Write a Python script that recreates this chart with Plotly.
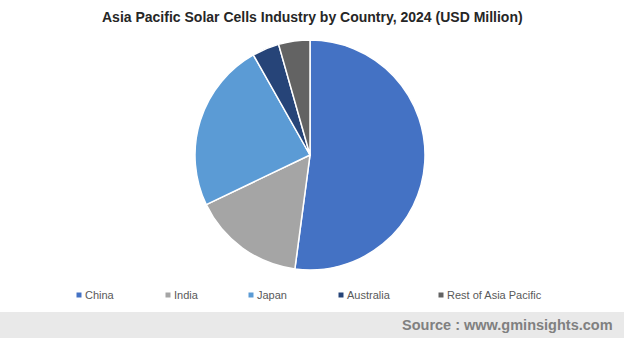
import plotly.graph_objects as go

# Market share by country (USD Million, 2024)
countries = ["China", "India", "Japan", "Australia", "Rest of Asia Pacific"]
values = [52.1, 15.8, 23.9, 3.8, 4.4]
colors = ["#4472C4", "#A5A5A5", "#5B9BD5", "#264478", "#636363"]
legend_x = [79, 168, 251, 341, 441]  # pixel x of each legend swatch

W, H = 624, 338

fig = go.Figure(
    go.Pie(
        labels=countries,
        values=values,
        sort=False,
        direction="clockwise",
        rotation=0,
        marker=dict(colors=colors, line=dict(color="white", width=1.5)),
        textinfo="none",
        hoverinfo="label+value",
        showlegend=False,
        domain=dict(x=[195 / W, 425 / W], y=[(H - 270) / H, (H - 40) / H]),
    )
)

shapes = [
    # source footer band
    dict(type="rect", xref="paper", yref="paper", x0=0, x1=1,
         y0=0, y1=(H - 312) / H, fillcolor="#E9E9E9", line=dict(width=0), layer="below"),
]
annotations = [
    dict(text="<b>Asia Pacific Solar Cells Industry by Country, 2024 (USD Million)</b>",
         x=312 / W, y=(H - 17) / H, xref="paper", yref="paper", showarrow=False,
         xanchor="center", yanchor="middle",
         font=dict(family="Liberation Sans, Arial", size=14, color="#262626")),
    dict(text="<b>Source : www.gminsights.com</b>",
         x=615 / W, y=(H - 325) / H, xref="paper", yref="paper", showarrow=False,
         xanchor="right", yanchor="middle",
         font=dict(family="Liberation Sans, Arial", size=14.5, color="#808080")),
]

# custom legend: small square swatch followed by the label
for name, col, lx in zip(countries, colors, legend_x):
    yc = (H - 295) / H
    shapes.append(dict(type="rect", xref="paper", yref="paper",
                       x0=(lx - 2.5) / W, x1=(lx + 2.5) / W,
                       y0=yc - 2.5 / H, y1=yc + 2.5 / H,
                       fillcolor=col, line=dict(width=0)))
    annotations.append(dict(text=name, x=(lx + 4) / W, y=yc, xref="paper", yref="paper",
                            showarrow=False, xanchor="left", yanchor="middle",
                            font=dict(family="Liberation Sans, Arial", size=11, color="#595959")))

fig.update_layout(
    width=W, height=H,
    margin=dict(l=0, r=0, t=0, b=0),
    paper_bgcolor="white",
    plot_bgcolor="white",
    shapes=shapes,
    annotations=annotations,
)

fig.write_html("out.html")
